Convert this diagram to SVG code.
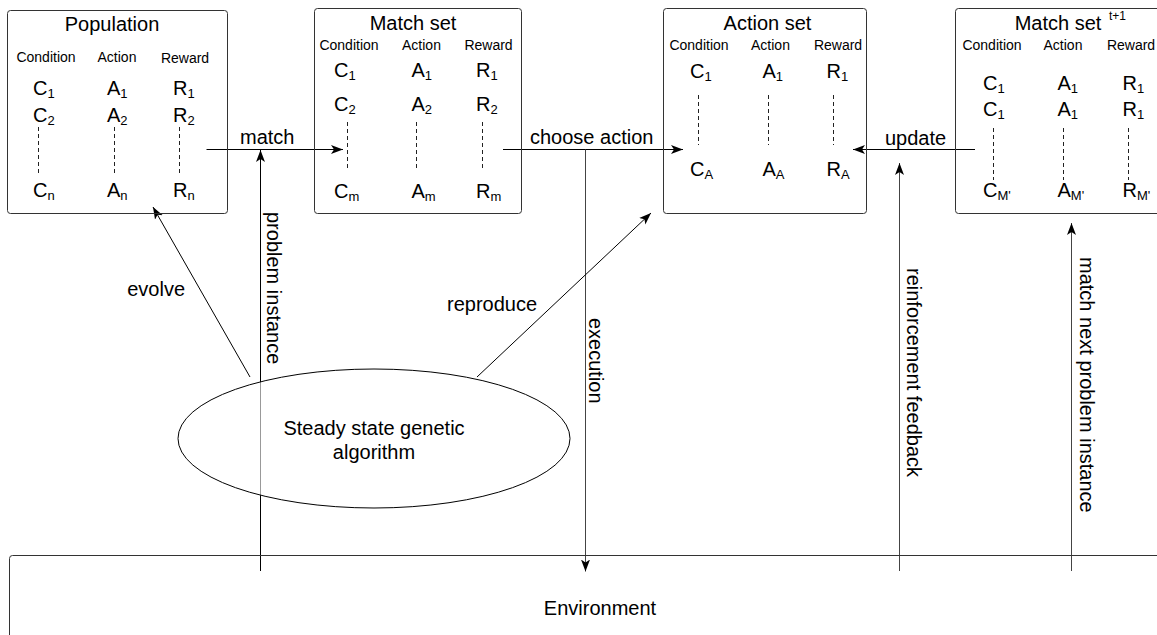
<svg xmlns="http://www.w3.org/2000/svg" width="1157" height="635" viewBox="0 0 1157 635">
  <style>
    text { font-family: "Liberation Sans", Arial, sans-serif; fill: #000; }
    .title { font-size: 20px; text-anchor: middle; }
    .hdr { font-size: 14px; text-anchor: middle; }
    .cell { font-size: 20px; }
    .sub { font-size: 13px; }
    .lbl { font-size: 20px; }
    .box { fill: none; stroke: #333; stroke-width: 1; }
    .dash { stroke: #222; stroke-width: 1; stroke-dasharray: 4 3; }
    .edge { fill: none; stroke: #000; stroke-width: 1; }
    .edge.gray { stroke: #444; }
  </style>
  <defs>
    <marker id="arrow" viewBox="0 0 12 10" refX="12" refY="5" markerWidth="12" markerHeight="10" markerUnits="userSpaceOnUse" orient="auto">
      <path d="M0,0.5 L12,5 L0,9.5 L3,5 Z" fill="#000" stroke="none"/>
    </marker>
  </defs>

  <!-- connectors -->
  <g id="connectors">
    <line class="edge" x1="206.5" y1="149.5" x2="343" y2="149.5" marker-end="url(#arrow)"/>
    <line class="edge" x1="260.5" y1="571" x2="260.5" y2="150" marker-end="url(#arrow)"/>
    <line class="edge" x1="503" y1="149.5" x2="683" y2="149.5" marker-end="url(#arrow)"/>
    <line class="edge gray" x1="585.5" y1="149.5" x2="585.5" y2="571.5" marker-end="url(#arrow)"/>
    <line class="edge" x1="975" y1="149.5" x2="853" y2="149.5" marker-end="url(#arrow)"/>
    <line class="edge gray" x1="899.5" y1="571" x2="899.5" y2="163" marker-end="url(#arrow)"/>
    <line class="edge gray" x1="1071.5" y1="571" x2="1071.5" y2="223" marker-end="url(#arrow)"/>
    <line class="edge" x1="250" y1="377" x2="153" y2="207" marker-end="url(#arrow)"/>
    <line class="edge" x1="477" y1="377" x2="651" y2="213" marker-end="url(#arrow)"/>

    <text class="lbl" x="240" y="144">match</text>
    <text class="lbl" x="530" y="144">choose action</text>
    <text class="lbl" x="885" y="145">update</text>
    <text class="lbl" x="185" y="296" text-anchor="end">evolve</text>
    <text class="lbl" x="447" y="311">reproduce</text>
    <text class="lbl" transform="translate(267,212) rotate(90)">problem instance</text>
    <text class="lbl" transform="translate(589,318) rotate(90)">execution</text>
    <text class="lbl" transform="translate(907,268) rotate(90)">reinforcement feedback</text>
    <text class="lbl" transform="translate(1080,257) rotate(90)">match next problem instance</text>
  </g>

  <!-- Population -->
  <g id="population">
    <rect class="box" x="7.5" y="10.5" width="220" height="203" rx="3"/>
    <text class="title" x="112" y="31">Population</text>
    <text class="hdr" x="46" y="62">Condition</text>
    <text class="hdr" x="117" y="62">Action</text>
    <text class="hdr" x="185" y="63">Reward</text>
    <text class="cell" x="33" y="95">C<tspan class="sub" dy="3">1</tspan></text>
    <text class="cell" x="107" y="95">A<tspan class="sub" dy="3">1</tspan></text>
    <text class="cell" x="173" y="95">R<tspan class="sub" dy="3">1</tspan></text>
    <text class="cell" x="33" y="122">C<tspan class="sub" dy="3">2</tspan></text>
    <text class="cell" x="107" y="122">A<tspan class="sub" dy="3">2</tspan></text>
    <text class="cell" x="173" y="122">R<tspan class="sub" dy="3">2</tspan></text>
    <line class="dash" x1="38.5" y1="127" x2="38.5" y2="175"/>
    <line class="dash" x1="114.5" y1="127" x2="114.5" y2="175"/>
    <line class="dash" x1="179.5" y1="127" x2="179.5" y2="175"/>
    <text class="cell" x="33" y="197">C<tspan class="sub" dy="3">n</tspan></text>
    <text class="cell" x="107" y="197">A<tspan class="sub" dy="3">n</tspan></text>
    <text class="cell" x="173" y="197">R<tspan class="sub" dy="3">n</tspan></text>
  </g>

  <!-- Match set -->
  <g id="match-set">
    <rect class="box" x="314.5" y="8.5" width="207" height="205" rx="3"/>
    <text class="title" x="413" y="30">Match set</text>
    <text class="hdr" x="349" y="50">Condition</text>
    <text class="hdr" x="421.5" y="50">Action</text>
    <text class="hdr" x="488.5" y="50">Reward</text>
    <text class="cell" x="334" y="77">C<tspan class="sub" dy="3">1</tspan></text>
    <text class="cell" x="411.5" y="77">A<tspan class="sub" dy="3">1</tspan></text>
    <text class="cell" x="476" y="77">R<tspan class="sub" dy="3">1</tspan></text>
    <text class="cell" x="334" y="111">C<tspan class="sub" dy="3">2</tspan></text>
    <text class="cell" x="411.5" y="111">A<tspan class="sub" dy="3">2</tspan></text>
    <text class="cell" x="476" y="111">R<tspan class="sub" dy="3">2</tspan></text>
    <line class="dash" x1="347.5" y1="122" x2="347.5" y2="170"/>
    <line class="dash" x1="416.5" y1="122" x2="416.5" y2="170"/>
    <line class="dash" x1="482.5" y1="122" x2="482.5" y2="170"/>
    <text class="cell" x="334" y="198">C<tspan class="sub" dy="3">m</tspan></text>
    <text class="cell" x="411.5" y="198">A<tspan class="sub" dy="3">m</tspan></text>
    <text class="cell" x="476" y="198">R<tspan class="sub" dy="3">m</tspan></text>
  </g>

  <!-- Action set -->
  <g id="action-set">
    <rect class="box" x="663.5" y="8.5" width="203" height="205" rx="3"/>
    <text class="title" x="767.5" y="30">Action set</text>
    <text class="hdr" x="699" y="50">Condition</text>
    <text class="hdr" x="770.5" y="50">Action</text>
    <text class="hdr" x="838" y="50">Reward</text>
    <text class="cell" x="690" y="78">C<tspan class="sub" dy="3">1</tspan></text>
    <text class="cell" x="762.5" y="78">A<tspan class="sub" dy="3">1</tspan></text>
    <text class="cell" x="826.5" y="78">R<tspan class="sub" dy="3">1</tspan></text>
    <line class="dash" x1="698.5" y1="95" x2="698.5" y2="145"/>
    <line class="dash" x1="768.5" y1="95" x2="768.5" y2="145"/>
    <line class="dash" x1="833.5" y1="95" x2="833.5" y2="145"/>
    <text class="cell" x="690" y="176">C<tspan class="sub" dy="3">A</tspan></text>
    <text class="cell" x="762.5" y="176">A<tspan class="sub" dy="3">A</tspan></text>
    <text class="cell" x="826.5" y="176">R<tspan class="sub" dy="3">A</tspan></text>
  </g>

  <!-- Match set at t+1 -->
  <g id="match-set-next">
    <rect class="box" x="955.5" y="8.5" width="220" height="205" rx="3"/>
    <text class="title" x="1058" y="30">Match set</text>
    <text x="1109" y="20" font-size="12">t+1</text>
    <text class="hdr" x="992" y="50">Condition</text>
    <text class="hdr" x="1063" y="50">Action</text>
    <text class="hdr" x="1131" y="50">Reward</text>
    <text class="cell" x="983" y="90">C<tspan class="sub" dy="3">1</tspan></text>
    <text class="cell" x="1057.5" y="90">A<tspan class="sub" dy="3">1</tspan></text>
    <text class="cell" x="1122.5" y="90">R<tspan class="sub" dy="3">1</tspan></text>
    <text class="cell" x="983" y="116">C<tspan class="sub" dy="3">1</tspan></text>
    <text class="cell" x="1057.5" y="116">A<tspan class="sub" dy="3">1</tspan></text>
    <text class="cell" x="1122.5" y="116">R<tspan class="sub" dy="3">1</tspan></text>
    <line class="dash" x1="993.5" y1="128" x2="993.5" y2="180"/>
    <line class="dash" x1="1063.5" y1="128" x2="1063.5" y2="180"/>
    <line class="dash" x1="1128.5" y1="128" x2="1128.5" y2="180"/>
    <text class="cell" x="983" y="197">C<tspan class="sub" dy="3">M'</tspan></text>
    <text class="cell" x="1057.5" y="197">A<tspan class="sub" dy="3">M'</tspan></text>
    <text class="cell" x="1122.5" y="197">R<tspan class="sub" dy="3">M'</tspan></text>
  </g>

  <!-- Genetic algorithm -->
  <g id="genetic-algorithm">
    <ellipse cx="374" cy="438.5" rx="196" ry="69.5" fill="#fff" fill-opacity="0.6" stroke="#000" stroke-width="1"/>
    <text class="title" x="374" y="435">Steady state genetic</text>
    <text class="title" x="374" y="459">algorithm</text>
  </g>

  <!-- Environment -->
  <g id="environment">
    <rect class="box" x="9.5" y="555.5" width="1200" height="200" rx="3"/>
    <text class="title" x="600" y="615">Environment</text>
  </g>
</svg>
